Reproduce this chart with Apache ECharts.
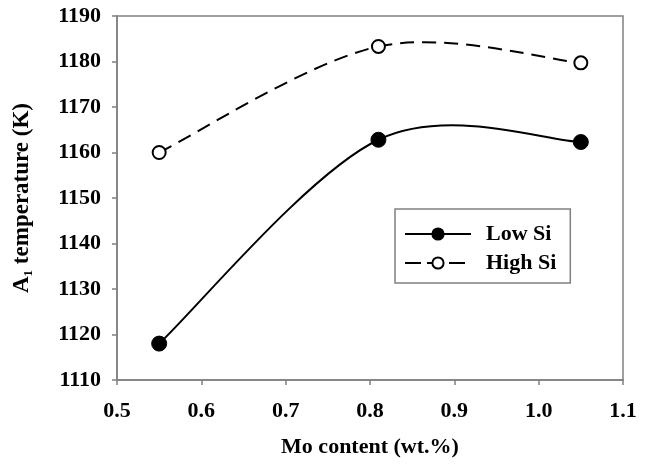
<!DOCTYPE html>
<html>
<head>
<meta charset="utf-8">
<script src="https://cdn.jsdelivr.net/npm/echarts@6/dist/echarts.min.js"></script>
<style>
	html, body { margin: 0; padding: 0; width: 100%; height: 100%; background: #fff; }
	#chartLineBox { width: 648px; height: 464px; }
</style>
</head>
<body>
<div id="chartLineBox"></div>
<script>
	// 数据
	var moContent = [0.55, 0.81, 1.05];
	var lowSi = [1118, 1162.8, 1162.3];
	var highSi = [1160, 1183.3, 1179.7];
	var xTicks = [0.5, 0.6, 0.7, 0.8, 0.9, 1.0, 1.1];
	var yTicks = [1110, 1120, 1130, 1140, 1150, 1160, 1170, 1180, 1190];

	var font = 'Liberation Serif';
	var chartLine = echarts.init(document.getElementById('chartLineBox'));

	// 平滑曲线（类似 Excel 的平滑线），每段用三次贝塞尔
	function curveSeries(ys, dash) {
		return {
			type: 'custom',
			silent: true,
			z: 1,
			data: moContent.slice(0, -1).map(function (x, i) { return [x, ys[i]]; }),
			renderItem: function (params, api) {
				var i = params.dataIndex;
				var n = moContent.length;
				var p = function (k) {
					k = Math.max(0, Math.min(n - 1, k));
					return api.coord([moContent[k], ys[k]]);
				};
				var p0 = p(i - 1), p1 = p(i), p2 = p(i + 1), p3 = p(i + 2);
				return {
					type: 'bezierCurve',
					shape: {
						x1: p1[0], y1: p1[1], x2: p2[0], y2: p2[1],
						cpx1: p1[0] + (p2[0] - p0[0]) / 6, cpy1: p1[1] + (p2[1] - p0[1]) / 6,
						cpx2: p2[0] - (p3[0] - p1[0]) / 6, cpy2: p2[1] - (p3[1] - p1[1]) / 6
					},
					style: { fill: null, stroke: '#000', lineWidth: 2, lineDash: dash }
				};
			}
		};
	}

	var option = {
		animation: false,
		textStyle: { fontFamily: font, fontWeight: 'bold', color: '#000' },
		grid: { //绘图区
			left: 117, right: 25, top: 16, bottom: 84,
			show: true, borderColor: '#808080', borderWidth: 1.5
		},
		legend: {
			left: 395, top: 209,
			orient: 'vertical',
			padding: [14, 14, 9, 9],
			itemGap: 7,
			itemWidth: 66, itemHeight: 14,
			borderColor: '#808080', borderWidth: 1.5,
			textStyle: { fontFamily: font, fontWeight: 'bold', fontSize: 22, color: '#000', padding: [0, 0, 0, 10] },
			data: [
				{ name: 'Low Si', lineStyle: { color: '#000', width: 2, opacity: 1 } },
				{ name: 'High Si', lineStyle: { color: '#000', width: 2, opacity: 1, type: [16, 6] } }
			]
		},
		xAxis: {
			type: 'value',
			min: xTicks[0], max: xTicks[xTicks.length - 1], interval: 0.1,
			name: 'Mo content (wt.%)',
			nameLocation: 'middle', nameGap: 56,
			nameTextStyle: { fontFamily: font, fontWeight: 'bold', fontSize: 22, color: '#000' },
			axisLine: { lineStyle: { color: '#808080', width: 1.5 } },
			axisTick: { show: true, length: 5, lineStyle: { color: '#808080', width: 1.5 } },
			axisLabel: {
				margin: 20, fontFamily: font, fontWeight: 'bold', fontSize: 22, color: '#000',
				formatter: function (v) { return v.toFixed(1); }
			},
			splitLine: { show: false }
		},
		yAxis: {
			type: 'value',
			min: yTicks[0], max: yTicks[yTicks.length - 1], interval: 10,
			name: '{a|A}{s|1}{a| temperature (K)}',
			nameLocation: 'middle', nameGap: 82,
			nameTextStyle: {
				rich: {
					a: { fontFamily: font, fontWeight: 'bold', fontSize: 23, color: '#000', lineHeight: 26 },
					s: { fontFamily: font, fontWeight: 'bold', fontSize: 13, color: '#000', verticalAlign: 'bottom', lineHeight: 13, padding: [11, 0, 0, 0] }
				}
			},
			axisLine: { show: true, lineStyle: { color: '#808080', width: 1.5 } },
			axisTick: { show: true, length: 5, lineStyle: { color: '#808080', width: 1.5 } },
			axisLabel: {
				margin: 16, fontFamily: font, fontWeight: 'bold', fontSize: 22, color: '#000',
				formatter: function (v) { return String(v); }
			},
			splitLine: { show: false }
		},
		series: [
			curveSeries(lowSi, null),
			curveSeries(highSi, [14, 8]),
			{
				name: 'Low Si',
				type: 'line',
				z: 3,
				data: moContent.map(function (x, i) { return [x, lowSi[i]]; }),
				symbol: 'circle', symbolSize: 15,
				itemStyle: { color: '#000', borderColor: '#000', borderWidth: 1 },
				lineStyle: { color: '#000', width: 2, opacity: 0 }
			},
			{
				name: 'High Si',
				type: 'line',
				z: 3,
				data: moContent.map(function (x, i) { return [x, highSi[i]]; }),
				symbol: 'circle', symbolSize: 13,
				itemStyle: { color: '#fff', borderColor: '#000', borderWidth: 2 },
				lineStyle: { color: '#000', width: 2, opacity: 0 }
			}
		]
	};
	chartLine.setOption(option);
</script>
</body>
</html>
